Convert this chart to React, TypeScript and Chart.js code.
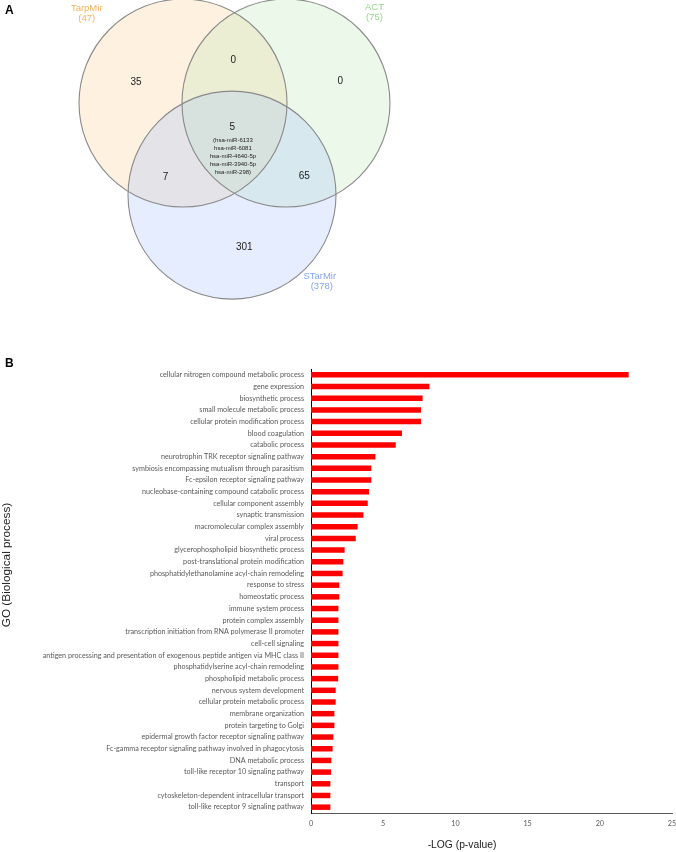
import React, { useEffect, useRef } from "react";
import { Chart, registerables } from "chart.js";

Chart.register(...registerables);

// ---------- Panel A data (Venn) ----------
const vennSets = ["TarpMir", "ACT", "STarMir"];
const vennSetSizes = [47, 75, 378];
const vennRegions = ["TarpMir only", "ACT only", "STarMir only", "TarpMir & ACT", "TarpMir & STarMir", "ACT & STarMir", "all three"];
const vennRegionCounts = [35, 0, 301, 0, 7, 65, 5];
const sharedMiRNAs = ["hsa-miR-6133", "hsa-miR-6081", "hsa-miR-4640-5p", "hsa-miR-3940-5p", "hsa-miR-298"];

// ---------- Panel B data (GO bars) ----------
const goTerms = [
  "cellular nitrogen compound metabolic process",
  "gene expression",
  "biosynthetic process",
  "small molecule metabolic process",
  "cellular protein modification process",
  "blood coagulation",
  "catabolic process",
  "neurotrophin TRK receptor signaling pathway",
  "symbiosis encompassing mutualism through parasitism",
  "Fc-epsilon receptor signaling pathway",
  "nucleobase-containing compound catabolic process",
  "cellular component assembly",
  "synaptic transmission",
  "macromolecular complex assembly",
  "viral process",
  "glycerophospholipid biosynthetic process",
  "post-translational protein modification",
  "phosphatidylethanolamine acyl-chain remodeling",
  "response to stress",
  "homeostatic process",
  "immune system process",
  "protein complex assembly",
  "transcription initiation from RNA polymerase II promoter",
  "cell-cell signaling",
  "antigen processing and presentation of exogenous peptide antigen via MHC class II",
  "phosphatidylserine acyl-chain remodeling",
  "phospholipid metabolic process",
  "nervous system development",
  "cellular protein metabolic process",
  "membrane organization",
  "protein targeting to Golgi",
  "epidermal growth factor receptor signaling pathway",
  "Fc-gamma receptor signaling pathway involved in phagocytosis",
  "DNA metabolic process",
  "toll-like receptor 10 signaling pathway",
  "transport",
  "cytoskeleton-dependent intracellular transport",
  "toll-like receptor 9 signaling pathway",
];
const goNegLogP = [
  22.0, 8.2, 7.73, 7.62, 7.62, 6.3, 5.87, 4.46, 4.18, 4.18, 4.02, 3.93, 3.63, 3.23, 3.1,
  2.33, 2.24, 2.19, 1.96, 1.96, 1.9, 1.9, 1.9, 1.9, 1.9, 1.9, 1.88, 1.71, 1.71, 1.62,
  1.62, 1.55, 1.5, 1.41, 1.39, 1.34, 1.34, 1.34,
];
const xTickValues = [0, 5, 10, 15, 20, 25];

// ---------- Layout (venn geometry in circle-radius units) ----------
const circleCenters = [
  [-0.495, 0.44],
  [0.495, 0.44],
  [-0.024, -0.445],
];
const circleFills = ["rgba(253,200,130,0.25)", "rgba(180,230,170,0.25)", "rgba(160,190,250,0.28)"];
const setLabelColors = ["#f4b35e", "#98d68e", "#86a4f0"];
const setLabelPos = [
  [-1.421, 1.361],
  [1.346, 1.373],
  [0.82, -1.22],
];
const regionPos = [
  [-0.947, 0.639],
  [1.017, 0.645],
  [0.094, -0.951],
  [-0.012, 0.851],
  [-0.662, -0.278],
  [0.671, -0.268],
  [-0.021, 0.203],
];

const ARIAL = '"Liberation Sans", Arial, sans-serif';
const LABEL_FONT = "Lato, 'Open Sans', sans-serif";

const unitRadius = (c: any) => {
  const s = c.chart.scales.x;
  if (!s) return 0;
  const r = s.getPixelForValue(1) - s.getPixelForValue(0);
  return Number.isFinite(r) && r > 0 ? r : 0;
};

const vennTextPlugin = {
  id: "vennText",
  afterDatasetsDraw(chart: any) {
    const { ctx, scales } = chart;
    const px = (u: number) => scales.x.getPixelForValue(u);
    const py = (v: number) => scales.y.getPixelForValue(v);
    ctx.save();
    ctx.textAlign = "center";
    ctx.textBaseline = "middle";
    // set names
    ctx.font = `9.5px ${ARIAL}`;
    vennSets.forEach((name, i) => {
      ctx.fillStyle = setLabelColors[i];
      const x = px(setLabelPos[i][0]);
      const y = py(setLabelPos[i][1]);
      ctx.fillText(name, x, y + 1);
      ctx.fillText(`(${vennSetSizes[i]})`, x + (i === 2 ? 2 : 0), y + 11);
    });
    // region counts
    ctx.fillStyle = "#222";
    ctx.font = `10px ${ARIAL}`;
    vennRegionCounts.forEach((n, i) => {
      ctx.fillText(String(n), px(regionPos[i][0]), py(regionPos[i][1]));
    });
    // shared miRNAs
    ctx.font = `6px ${ARIAL}`;
    const cx = px(-0.015);
    const y0 = py(0.078);
    sharedMiRNAs.forEach((m, i) => {
      const t = (i === 0 ? "(" : "") + m + (i === sharedMiRNAs.length - 1 ? ")" : "");
      ctx.fillText(t, cx, y0 + i * 7.9);
    });
    // panel letter
    ctx.textAlign = "left";
    ctx.font = `bold 12px ${ARIAL}`;
    ctx.fillStyle = "#000";
    ctx.fillText("A", 5, 11);
    ctx.restore();
  },
};

const barTextPlugin = {
  id: "barText",
  afterDraw(chart: any) {
    const { ctx } = chart;
    ctx.save();
    ctx.fillStyle = "#000";
    ctx.textBaseline = "middle";
    ctx.textAlign = "left";
    ctx.font = `bold 12px ${ARIAL}`;
    ctx.fillText("B", 5, 24);
    ctx.fillStyle = "#222";
    ctx.textAlign = "center";
    ctx.font = `10.3px ${ARIAL}`;
    ctx.fillText("-LOG (p-value)", 462, 505.5);
    ctx.translate(7, 225);
    ctx.rotate(-Math.PI / 2);
    ctx.font = `11.8px ${ARIAL}`;
    ctx.fillText("GO (Biological process)", 0, 0);
    ctx.restore();
  },
};

export default function App() {
  const vennRef = useRef<HTMLCanvasElement>(null);
  const barRef = useRef<HTMLCanvasElement>(null);

  useEffect(() => {
    const pxPerUnit = 104;
    const ox = 234.5;
    const oy = 148.8;
    const vennW = 676;
    const vennH = 340;
    const venn = new Chart(vennRef.current!, {
      type: "scatter",
      data: {
        datasets: [
          {
            label: "outline",
            data: circleCenters.map(([x, y]) => ({ x, y })),
            pointRadius: unitRadius,
            pointBackgroundColor: "rgba(0,0,0,0)",
            pointBorderColor: "#8a8a8a",
            pointBorderWidth: 1.1,
            clip: false as any,
          },
          {
            label: "fill",
            data: circleCenters.map(([x, y]) => ({ x, y })),
            pointRadius: unitRadius,
            pointBackgroundColor: circleFills,
            pointBorderWidth: 0,
            clip: false as any,
          },
        ],
      },
      options: {
        animation: false,
        responsive: false,
        events: [],
        layout: { padding: 0 },
        plugins: { legend: { display: false }, tooltip: { enabled: false } },
        scales: {
          x: { type: "linear", display: false, min: -ox / pxPerUnit, max: (vennW - ox) / pxPerUnit },
          y: { type: "linear", display: false, min: -(vennH - oy) / pxPerUnit, max: oy / pxPerUnit },
        },
      },
      plugins: [vennTextPlugin],
    });

    const tickFont = { family: LABEL_FONT, size: 7.2 };
    const bar = new Chart(barRef.current!, {
      type: "bar",
      data: {
        labels: goTerms,
        datasets: [
          {
            label: "-LOG (p-value)",
            data: goNegLogP,
            backgroundColor: "#ff0000",
            borderWidth: 0,
            barPercentage: 0.47,
            categoryPercentage: 1,
          },
        ],
      },
      options: {
        indexAxis: "y",
        animation: false,
        responsive: false,
        events: [],
        layout: { padding: { top: 29, right: 4, left: 0, bottom: 0 } },
        plugins: { legend: { display: false }, tooltip: { enabled: false } },
        scales: {
          x: {
            type: "linear",
            min: 0,
            max: 25,
            afterBuildTicks: (s: any) => {
              s.ticks = xTickValues.map((v) => ({ value: v }));
            },
            ticks: { color: "#595959", font: tickFont, padding: 6, maxRotation: 0 },
            grid: { display: false, drawTicks: false },
            border: { display: true, color: "#595959", width: 1 },
            afterFit: (s: any) => {
              s.height = 39;
              s.paddingRight = 0;
              s.paddingLeft = 0;
            },
          },
          y: {
            ticks: { autoSkip: false, color: "#595959", font: tickFont, padding: 7 },
            grid: { display: false, drawTicks: false },
            border: { display: true, color: "#000", width: 1 },
            afterFit: (s: any) => {
              s.width = 311;
              s.paddingTop = 0;
              s.paddingBottom = 0;
            },
          },
        },
      },
      plugins: [barTextPlugin],
    });

    return () => {
      venn.destroy();
      bar.destroy();
    };
  }, []);

  return (
    <div style={{ position: "absolute", left: 0, top: 0, width: 676, height: 852, background: "#fff" }}>
      <canvas ref={vennRef} width={676} height={340} style={{ position: "absolute", left: 0, top: 0, display: "block" }} />
      <canvas ref={barRef} width={676} height={512} style={{ position: "absolute", left: 0, top: 340, display: "block" }} />
    </div>
  );
}
